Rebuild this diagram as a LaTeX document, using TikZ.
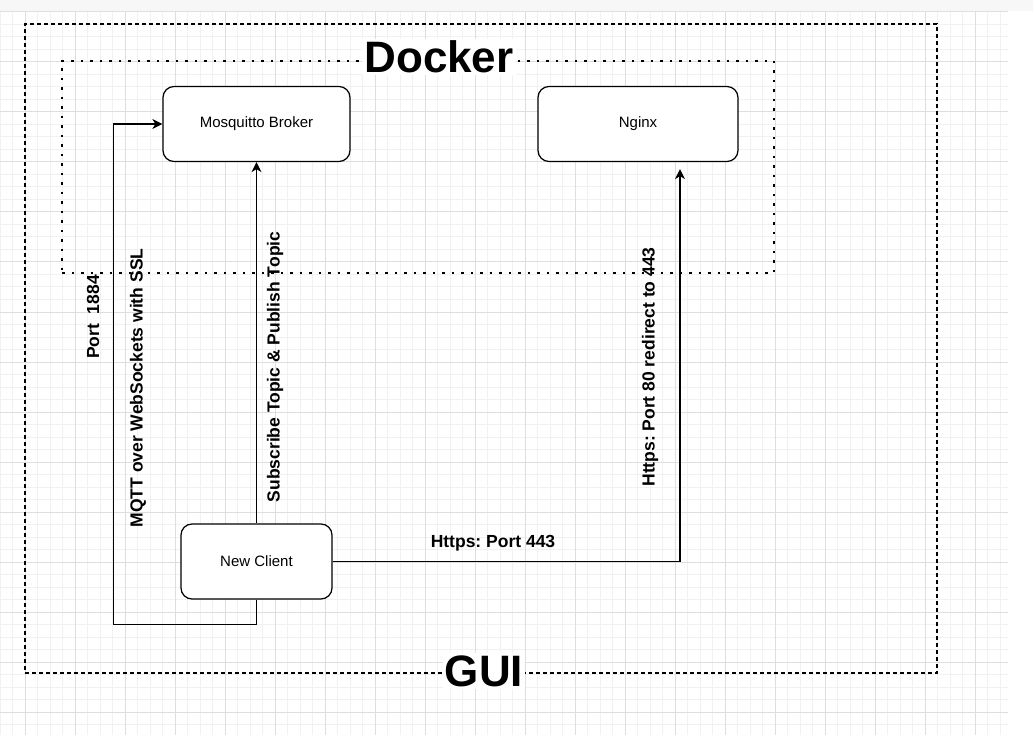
\documentclass[tikz,border=0pt]{standalone}
\usepackage{fontspec}
\setmainfont{Liberation Sans}
\usetikzlibrary{arrows.meta}
\definecolor{gridminor}{RGB}{241,241,241}
\definecolor{gridmajor}{RGB}{222,222,222}
\definecolor{topbar}{RGB}{247,247,247}
\frenchspacing

\begin{document}
\begin{tikzpicture}[x=1pt, y=-1pt, line width=1.25pt,
  box/.style={draw, rectangle, rounded corners=11pt, fill=white, minimum height=75pt, font=\fontsize{15pt}{18pt}\selectfont},
  link/.style={-{Stealth[length=10pt, width=10pt, inset=3pt]}},
  lbl/.style={inner sep=0pt, font=\bfseries\fontsize{17.5pt}{21pt}\selectfont},
  title/.style={fill=white, inner sep=2pt, font=\bfseries\fontsize{44pt}{50pt}\selectfont}]
\useasboundingbox (0,0) rectangle (1033,735);
% background grid
\fill[white] (0,0) rectangle (1033,735);
\fill[topbar] (0,0) rectangle (1033,11);
\foreach \k in {0,...,80} \draw[gridminor, line width=1pt] ({12.5*\k},11) -- ({12.5*\k},735);
\foreach \k in {0,...,57} \draw[gridminor, line width=1pt] (0,{12+12.5*\k}) -- (1008,{12+12.5*\k});
\foreach \k in {0,...,19} \draw[gridmajor, line width=1pt] ({25+50*\k},11) -- ({25+50*\k},735);
\foreach \k in {0,...,14} \draw[gridmajor, line width=1pt] (0,{12+50*\k}) -- (1008,{12+50*\k});

% containers
\node[draw, dash pattern=on 4pt off 3pt, minimum width=912pt, minimum height=649pt] (gui) at (481,348.5) {};
\node[draw, line width=2.5pt, dash pattern=on 2.5pt off 7pt, minimum width=712pt, minimum height=212pt] (docker) at (418,167) {};
\node[title] (dockertitle) at (439,57) {Docker};
\node[title] (guititle) at (484,671) {GUI};

% services
\node[box, minimum width=187pt] (broker) at (256.5,124) {Mosquitto Broker};
\node[box, minimum width=200pt] (nginx) at (638,124) {Nginx};
\node[box, minimum width=151pt] (client) at (256.5,561.5) {New Client};

% connections
\draw[link] (client.south) -- ++(0,25) -| ([xshift=-49pt]broker.west) -- (broker.west);
\draw[link] (client.north) -- (broker.south);
\draw[link] (client.east) -| ([xshift=42pt, yshift=-7pt]nginx.south);

% labels
\node[lbl, rotate=90] (portlbl) at (93,317) {Port\ \ 1884};
\node[lbl, rotate=90] (mqttlbl) at (138,388) {MQTT over WebSockets with SSL};
\node[lbl, rotate=90] (topiclbl) at (275,367) {Subscribe Topic \& Publish Topic};
\node[lbl, rotate=90] (redirlbl) at (650,367) {Https: Port 80 redirect to 443};
\node[lbl] (httpslbl) at (493,543) {Https: Port 443};
\end{tikzpicture}
\end{document}
